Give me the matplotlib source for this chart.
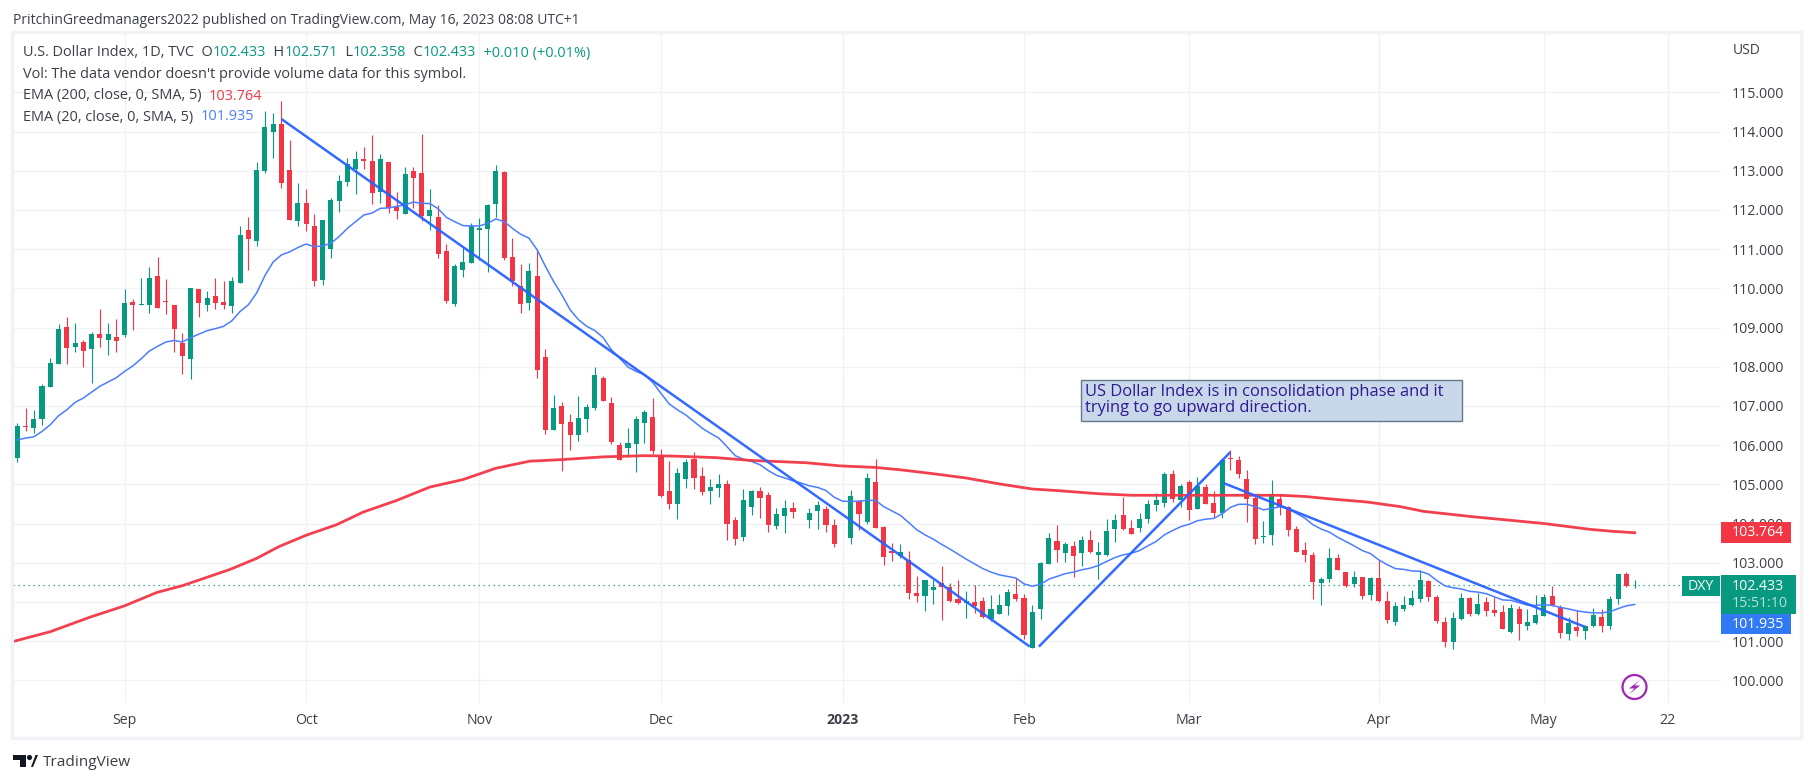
"""U.S. Dollar Index daily candles with EMA overlays, TradingView snapshot style."""

import matplotlib
matplotlib.use("Agg")
import matplotlib.pyplot as plt
from matplotlib.patches import Circle, Polygon, Rectangle

plt.rcParams["font.family"] = ["Open Sans", "DejaVu Sans"]

opens = [
    105.66, 106.49, 106.44, 106.67, 107.49, 108.07, 109.02, 108.51, 108.63, 108.46,
    108.84, 108.69, 108.76, 108.81, 109.65, 109.58, 109.58, 110.32, 109.68, 109.58,
    108.61, 108.20, 109.99, 109.58, 109.81, 109.65, 109.55, 110.14, 111.49, 111.21,
    113.00, 113.99, 114.20, 113.02, 111.72, 112.18, 111.59, 110.22, 111.01, 112.23,
    112.72, 113.05, 113.30, 113.25, 112.46, 113.23, 112.08, 111.90, 113.00, 112.95,
    111.85, 111.82, 110.96, 109.60, 110.47, 110.65, 111.49, 111.52, 112.16, 112.97,
    110.80, 110.06, 109.63, 110.32, 108.25, 106.39, 107.00, 106.59, 106.26, 106.67,
    106.95, 107.72, 107.08, 106.01, 105.93, 106.03, 106.57, 106.72, 105.73, 104.83,
    104.50, 105.14, 105.65, 105.22, 104.83, 104.91, 105.01, 104.09, 103.66, 104.43,
    104.83, 104.73, 103.94, 104.20, 104.40, 104.31, 104.09, 104.32, 104.38, 103.97,
    103.49, 103.64, 104.58, 104.04, 105.06, 103.92, 103.30, 103.18, 103.07, 102.23,
    102.16, 102.31, 102.49, 102.39, 102.08, 101.98, 102.00, 102.03, 101.57, 101.70,
    101.90, 102.21, 102.11, 100.83, 101.83, 102.97, 103.56, 103.25, 103.43, 103.25,
    103.58, 103.20, 103.20, 103.87, 104.22, 103.89, 103.89, 104.12, 104.48, 104.53,
    105.27, 104.61, 105.06, 104.38, 104.94, 104.53, 104.27, 105.67, 105.63, 105.14,
    104.66, 103.66, 103.71, 104.63, 104.43, 103.87, 103.33, 103.20, 102.49, 102.59,
    103.13, 102.77, 102.46, 102.64, 102.18, 102.62, 102.02, 101.48, 101.81, 101.92,
    102.07, 102.53, 102.12, 101.48, 100.97, 101.56, 102.10, 101.69, 101.99, 101.79,
    101.74, 101.23, 101.81, 101.38, 101.46, 101.64, 102.15, 101.87, 101.18, 101.36,
    101.25, 101.38, 101.61, 101.38, 102.07, 102.71, 102.423,
]
closes = [
    106.49, 106.46, 106.67, 107.51, 108.10, 108.97, 108.48, 108.61, 108.40, 108.84,
    108.74, 108.84, 108.66, 109.63, 109.58, 109.60, 110.27, 109.50, 109.65, 108.97,
    108.28, 110.01, 109.63, 109.76, 109.63, 109.58, 110.19, 111.36, 111.26, 113.02,
    114.12, 114.20, 112.69, 111.75, 112.18, 111.64, 110.19, 111.75, 112.26, 112.74,
    113.18, 113.30, 113.25, 112.44, 113.30, 112.05, 111.98, 112.92, 112.82, 111.85,
    112.00, 110.88, 109.68, 110.57, 110.68, 111.59, 111.54, 112.13, 113.00, 110.78,
    110.19, 109.60, 110.45, 107.92, 106.39, 106.95, 106.54, 106.26, 106.70, 106.98,
    107.79, 107.13, 106.08, 105.62, 106.06, 106.67, 106.85, 105.85, 104.71, 104.50,
    105.29, 105.57, 105.17, 104.81, 104.94, 105.01, 103.99, 103.61, 104.61, 104.83,
    104.66, 103.97, 104.25, 104.40, 104.30, 104.32, 104.27, 104.48, 103.97, 103.48,
    103.50, 104.71, 104.25, 105.17, 103.89, 103.15, 103.25, 103.28, 102.23, 102.16,
    102.56, 102.39, 102.39, 102.03, 101.98, 102.03, 101.90, 101.62, 101.83, 101.93,
    102.26, 102.08, 101.16, 101.75, 103.00, 103.64, 103.33, 103.48, 103.18, 103.58,
    103.28, 103.28, 103.81, 104.09, 103.87, 103.74, 104.12, 104.50, 104.61, 105.27,
    104.63, 104.96, 104.35, 104.96, 104.50, 104.27, 105.63, 105.65, 105.27, 104.63,
    103.61, 103.69, 104.76, 104.43, 103.84, 103.28, 103.20, 102.51, 102.59, 103.13,
    102.82, 102.41, 102.64, 102.16, 102.62, 102.03, 101.53, 101.89, 101.92, 102.10,
    102.55, 102.12, 101.51, 100.97, 101.59, 102.10, 101.69, 101.94, 101.76, 101.71,
    101.30, 101.84, 101.43, 101.48, 101.66, 102.12, 101.92, 101.20, 101.46, 101.25,
    101.38, 101.66, 101.38, 102.07, 102.71, 102.40, 102.433,
]
highs = [
    106.56, 106.95, 106.90, 107.55, 108.23, 109.09, 109.27, 109.12, 108.69, 108.89,
    109.48, 109.12, 109.22, 109.99, 109.73, 110.27, 110.55, 110.80, 110.24, 109.58,
    108.86, 110.01, 109.99, 109.94, 110.27, 110.19, 110.29, 111.59, 111.82, 113.23,
    114.53, 114.48, 114.78, 113.79, 112.69, 112.54, 111.90, 111.75, 112.31, 112.89,
    113.33, 113.51, 113.61, 113.92, 113.43, 113.23, 112.46, 113.10, 113.10, 113.94,
    112.54, 112.13, 111.13, 110.62, 111.06, 111.67, 111.80, 112.16, 113.15, 113.00,
    111.29, 110.62, 110.65, 111.01, 108.46, 107.28, 107.10, 106.80, 107.26, 107.05,
    108.00, 107.77, 107.23, 106.08, 106.44, 106.75, 106.90, 107.21, 105.91, 105.60,
    105.42, 105.65, 105.83, 105.45, 105.14, 105.27, 105.12, 104.17, 104.89, 104.86,
    104.94, 104.81, 104.40, 104.61, 104.55, 104.32, 104.40, 104.58, 104.45, 104.12,
    103.50, 104.86, 104.61, 105.29, 105.65, 103.94, 103.51, 103.48, 103.30, 102.67,
    102.56, 102.56, 102.92, 102.49, 102.56, 102.28, 102.44, 102.13, 102.18, 102.21,
    102.34, 102.62, 102.21, 101.93, 103.02, 103.76, 103.97, 103.53, 103.56, 103.69,
    103.84, 103.53, 104.12, 104.25, 104.68, 104.09, 104.27, 104.61, 104.78, 105.32,
    105.37, 105.01, 105.12, 105.19, 105.01, 104.83, 105.68, 105.88, 105.73, 105.37,
    104.76, 104.07, 105.12, 104.76, 104.45, 103.94, 103.53, 103.28, 102.64, 103.38,
    103.23, 102.77, 102.79, 102.64, 102.64, 103.07, 102.27, 101.99, 102.15, 102.30,
    102.81, 102.55, 102.17, 101.61, 101.74, 102.22, 102.12, 102.22, 102.12, 102.12,
    101.92, 101.94, 101.89, 101.81, 102.17, 102.20, 102.40, 101.92, 101.61, 101.79,
    101.41, 101.84, 101.81, 102.15, 102.71, 102.76, 102.57,
]
lows = [
    105.58, 106.35, 106.32, 106.52, 107.49, 108.07, 108.07, 108.38, 108.00, 107.59,
    108.51, 108.30, 108.38, 108.76, 108.94, 109.58, 109.37, 109.50, 109.35, 108.38,
    107.82, 107.69, 109.27, 109.43, 109.48, 109.48, 109.37, 110.14, 110.47, 111.08,
    112.95, 113.33, 112.56, 111.75, 111.59, 111.47, 110.06, 110.09, 110.78, 111.95,
    112.61, 112.41, 113.05, 112.16, 112.18, 111.93, 111.77, 111.90, 112.05, 111.72,
    111.49, 110.78, 109.63, 109.55, 110.29, 110.65, 110.73, 110.42, 111.82, 110.73,
    110.06, 109.37, 109.45, 107.72, 106.29, 106.39, 105.34, 105.88, 106.11, 106.34,
    106.90, 107.13, 106.03, 105.62, 105.70, 105.32, 106.06, 105.78, 104.68, 104.38,
    104.12, 104.91, 104.89, 104.73, 104.50, 104.68, 103.58, 103.46, 103.56, 104.22,
    104.15, 103.79, 103.87, 103.76, 104.15, 104.31, 103.89, 103.87, 103.79, 103.41,
    103.49, 103.48, 103.84, 103.99, 103.89, 102.95, 103.05, 103.13, 102.08, 102.00,
    101.77, 101.95, 101.54, 102.00, 101.95, 101.59, 101.72, 101.59, 101.52, 101.70,
    101.67, 102.03, 101.06, 100.82, 101.57, 102.97, 103.02, 103.02, 102.64, 102.92,
    103.25, 102.59, 103.18, 103.53, 103.84, 103.74, 103.79, 104.02, 104.32, 104.43,
    104.55, 104.43, 104.09, 104.38, 104.50, 104.17, 104.15, 105.37, 105.17, 104.04,
    103.48, 103.51, 103.46, 104.22, 103.69, 103.28, 103.02, 102.08, 101.93, 102.51,
    102.82, 102.39, 102.39, 102.08, 102.05, 102.00, 101.46, 101.41, 101.76, 101.89,
    101.99, 102.02, 101.46, 100.85, 100.79, 101.53, 101.64, 101.66, 101.64, 101.64,
    101.30, 101.20, 101.02, 101.28, 101.43, 101.64, 101.89, 101.08, 101.02, 101.13,
    101.05, 101.36, 101.23, 101.30, 101.94, 102.38, 102.36,
]
ema20 = [
    106.13, 106.18, 106.21, 106.35, 106.52, 106.75, 106.90, 107.09, 107.20, 107.35,
    107.50, 107.61, 107.72, 107.88, 108.02, 108.20, 108.40, 108.52, 108.63, 108.67,
    108.63, 108.74, 108.83, 108.92, 108.97, 109.03, 109.17, 109.41, 109.58, 109.88,
    110.32, 110.67, 110.85, 110.93, 111.04, 111.13, 111.06, 111.08, 111.15, 111.32,
    111.53, 111.70, 111.87, 111.92, 112.04, 112.05, 112.09, 112.13, 112.20, 112.17,
    112.16, 112.03, 111.81, 111.70, 111.60, 111.59, 111.59, 111.66, 111.77, 111.70,
    111.53, 111.38, 111.28, 110.98, 110.56, 110.17, 109.83, 109.45, 109.20, 109.03,
    108.92, 108.74, 108.43, 108.22, 107.99, 107.88, 107.80, 107.60, 107.32, 107.05,
    106.90, 106.77, 106.60, 106.43, 106.30, 106.18, 105.96, 105.73, 105.64, 105.58,
    105.50, 105.35, 105.23, 105.16, 105.09, 105.03, 104.96, 104.92, 104.84, 104.67,
    104.57, 104.56, 104.57, 104.59, 104.59, 104.43, 104.32, 104.21, 104.03, 103.84,
    103.71, 103.60, 103.47, 103.35, 103.22, 103.09, 102.97, 102.85, 102.76, 102.69,
    102.65, 102.61, 102.46, 102.40, 102.45, 102.58, 102.65, 102.72, 102.76, 102.82,
    102.86, 102.93, 103.03, 103.13, 103.20, 103.24, 103.31, 103.43, 103.54, 103.71,
    103.82, 103.92, 103.98, 104.07, 104.11, 104.13, 104.25, 104.41, 104.49, 104.49,
    104.43, 104.35, 104.38, 104.43, 104.37, 104.26, 104.14, 103.97, 103.86, 103.78,
    103.65, 103.54, 103.43, 103.31, 103.23, 103.07, 102.95, 102.85, 102.83, 102.79,
    102.78, 102.71, 102.55, 102.41, 102.36, 102.33, 102.27, 102.25, 102.21, 102.13,
    102.05, 102.04, 101.98, 101.92, 101.91, 101.93, 101.91, 101.86, 101.82, 101.77,
    101.74, 101.72, 101.72, 101.75, 101.83, 101.90, 101.935,
]

# EMA 200 read at the bends only, it is smooth enough
ema200_bars = [-0.5, 4, 8.8, 13, 16.9, 20.1, 25.8, 29, 31.7, 35, 38.7, 41.9, 46, 50, 54, 58,
               62.1, 66, 71, 76, 79.5, 84.7, 88.8, 95.6, 99.7, 104, 107, 111, 115, 119, 123,
               126, 131, 135, 140, 149, 153, 156, 159.5, 163.5, 167.6, 170.4, 176.5, 185,
               190.6, 193.4, 196]
ema200 = [100.99, 101.24, 101.61, 101.90, 102.24, 102.42, 102.83, 103.11, 103.41, 103.70,
          103.97, 104.29, 104.59, 104.93, 105.12, 105.41,
          105.59, 105.63, 105.70, 105.73, 105.72, 105.68, 105.61, 105.55, 105.47, 105.43,
          105.37, 105.27, 105.16, 105.01, 104.88,
          104.84, 104.76, 104.72, 104.72, 104.72, 104.72, 104.69, 104.62, 104.55, 104.43,
          104.31, 104.17, 104.00, 103.85, 103.80, 103.764]

# drawn trend lines: bar, price at each end
trend_lines = [
    ((32, 114.32), (122.7, 100.86)),
    ((123.8, 100.86), (147, 105.82)),
    ((146.2, 105.03), (190, 101.36)),
]

price_ticks = list(range(100, 116))
month_bars = [13, 35, 56, 78, 100, 122, 142, 165, 185, 200]
month_labels = ["Sep", "Oct", "Nov", "Dec", "2023", "Feb", "Mar", "Apr", "May", "22"]

last_price = 102.433
ema200_last = 103.764
ema20_last = 101.935

GREEN = "#089981"
RED = "#F23645"
BLUE = "#2962FF"
EMA_BLUE = "#4A7DFF"
GRID = "#F1F2F6"
TEXT = "#3C3F48"

W, H = 1814, 783
fig = plt.figure(figsize=(W / 100, H / 100), dpi=100, facecolor="white")

# plot pane in pixels
left, right, top, bottom = 13, 1721, 33, 703
ax = fig.add_axes([left / W, 1 - bottom / H, (right - left) / W, (bottom - top) / H])
ax.set_xlim((left - 17.3) / 8.252, (right - 17.3) / 8.252)
ax.set_ylim(100 - (bottom - 680.3) / 39.2, 100 + (680.3 - top) / 39.2)


def y_px(price):
    return 680.3 - (price - 100) * 39.2


for spine in ax.spines.values():
    spine.set_visible(False)
ax.set_yticks(price_ticks)
ax.set_yticklabels([f"{v}.000" for v in price_ticks], fontsize=10.2, color=TEXT)
ax.yaxis.tick_right()
ax.set_xticks(month_bars)
ax.set_xticklabels(month_labels, fontsize=10.2, color=TEXT)
ax.get_xticklabels()[4].set_fontweight("bold")
ax.tick_params(axis="y", length=0, pad=8)
ax.tick_params(axis="x", length=0, pad=7)
ax.grid(True, color=GRID, linewidth=1.0)
ax.set_axisbelow(True)

# candles
for i, (o, h, l, c) in enumerate(zip(opens, highs, lows, closes)):
    color = GREEN if c >= o else RED
    ax.vlines(i, l, h, color=color, linewidth=0.8, zorder=3)
    ax.bar(i, max(abs(c - o), 0.02), bottom=min(o, c), width=0.62, color=color, linewidth=0, zorder=3)

ax.plot(range(len(ema20)), ema20, color=EMA_BLUE, linewidth=1.1, zorder=4)
ax.plot(ema200_bars, ema200, color=RED, linewidth=2.0, alpha=0.95, zorder=4)
for (x0, y0), (x1, y1) in trend_lines:
    ax.plot([x0, x1], [y0, y1], color=BLUE, linewidth=1.8, alpha=0.95, zorder=5, solid_capstyle="butt")
ax.axhline(last_price, color=GREEN, linewidth=0.9, linestyle=(0, (1, 3)), zorder=2)

# everything outside the data: pixel overlay
ov = fig.add_axes([0, 0, 1, 1], facecolor="none")
ov.set_xlim(0, W)
ov.set_ylim(H, 0)
ov.axis("off")

# frame
ov.add_patch(Rectangle((12, 32), 1789, 706, fill=False, edgecolor=GRID, linewidth=2.4))

ov.text(13, 20, "PritchinGreedmanagers2022 published on TradingView.com, May 16, 2023 08:08 UTC+1",
        fontsize=10.0, color=TEXT, va="center")

ov.text(1733, 51, "USD", fontsize=10, color=TEXT, va="center")

# legend rows, pieces placed one after another
legend_rows = [
    (53, [("U.S. Dollar Index, 1D, TVC  O", TEXT), ("102.433", GREEN), ("  H", TEXT), ("102.571", GREEN),
          ("  L", TEXT), ("102.358", GREEN), ("  C", TEXT), ("102.433", GREEN), ("  +0.010 (+0.01%)", GREEN)]),
    (74.5, [("Vol: The data vendor doesn't provide volume data for this symbol.", TEXT)]),
    (96, [("EMA (200, close, 0, SMA, 5)  ", TEXT), ("103.764", RED)]),
    (117, [("EMA (20, close, 0, SMA, 5)  ", TEXT), ("101.935", EMA_BLUE)]),
]
renderer = fig.canvas.get_renderer()
for y, pieces in legend_rows:
    x = 23
    for s, col in pieces:
        t = ov.text(x, y, s.replace(" ", "\u00a0"), fontsize=10.45, color=col, va="center", zorder=8)
        x += t.get_window_extent(renderer).width

# annotation note
ov.add_patch(Rectangle((1081, 380), 381, 41, facecolor="#C9D7EA", edgecolor="#66788F", linewidth=1.0, zorder=6))
ov.text(1085, 400.5, "US Dollar Index is in consolidation phase and it\ntrying to go upward direction.",
        fontsize=11.9, color="#2E1A92", va="center", linespacing=1.0, zorder=7)

# price tags on the axis
ov.add_patch(Rectangle((1721, y_px(ema200_last) - 10.5), 70, 21, facecolor=RED, zorder=6))
ov.text(1732, y_px(ema200_last), "103.764", color="white", fontsize=10.2, va="center", zorder=7)

ov.add_patch(Rectangle((1682, 576), 38, 20, facecolor=GREEN, zorder=6))
ov.text(1701, 586, "DXY", color="white", fontsize=10.2, ha="center", va="center", zorder=7)
ov.add_patch(Rectangle((1721, 575), 75, 39, facecolor=GREEN, zorder=6))
ov.text(1732, 586, "102.433", color="white", fontsize=10.2, va="center", zorder=7)
ov.text(1732, 603.5, "15:51:10", color="#B5E0D8", fontsize=10.2, va="center", zorder=7)
ov.add_patch(Rectangle((1721, 614), 70, 20, facecolor="#3179F5", zorder=6))
ov.text(1732, 624, "101.935", color="white", fontsize=10.2, va="center", zorder=7)

# flash icon
ov.add_patch(Circle((1634.5, 687), 12, fill=False, edgecolor="#9C27B0", linewidth=1.6, zorder=6))
ov.add_patch(Polygon([(1640, 680), (1629, 688.5), (1634.5, 688.5), (1629, 694.5), (1640, 685.5), (1634.5, 685.5)],
                     facecolor="#9C27B0", edgecolor="none", zorder=7))

# TradingView logo
ov.add_patch(Polygon([(13, 755), (26, 755), (26, 767), (20, 767), (20, 760), (13, 760)],
                     facecolor="#131722", edgecolor="none"))
ov.add_patch(Circle((29.5, 757.5), 2.6, facecolor="#131722", edgecolor="none"))
ov.add_patch(Polygon([(31, 767), (35.5, 755), (38, 755), (33, 767)], facecolor="#131722", edgecolor="none"))
ov.text(43, 762.5, "TradingView", fontsize=11.1, color="#3C3F48", va="center")

assert len(opens) == len(closes) == len(highs) == len(lows) == len(ema20) == 197
assert len(ema200_bars) == len(ema200)

fig.savefig("out.png", dpi=100)
